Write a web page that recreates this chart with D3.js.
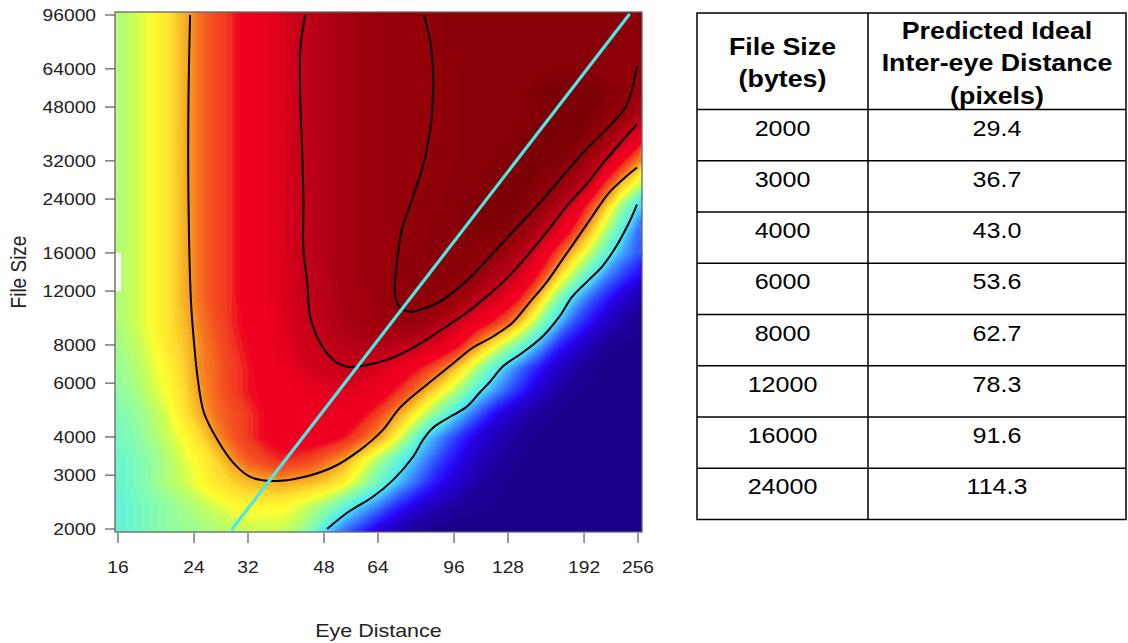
<!DOCTYPE html>
<html>
<head>
<meta charset="utf-8">
<title>Eye distance vs file size</title>
<script src="https://cdn.jsdelivr.net/npm/d3@7/dist/d3.min.js"></script>
<style>
  html, body { margin: 0; padding: 0; background: #fff; }
  svg { display: block; }
  text { font-family: "Liberation Sans", Arial, Helvetica, sans-serif; }
</style>
</head>
<body>
<svg id="chart" width="1128" height="643"></svg>
<script>
// ---------------- data ----------------
const eyeDistanceTicks = [16, 24, 32, 48, 64, 96, 128, 192, 256];
const fileSizeTicks = [2000, 3000, 4000, 6000, 8000, 12000, 16000, 24000, 32000, 48000, 64000, 96000];

const tableFileSize = [2000, 3000, 4000, 6000, 8000, 12000, 16000, 24000];
const tableIdealDistance = [29.4, 36.7, 43.0, 53.6, 62.7, 78.3, 91.6, 114.3];
const headerFileSize = ["File Size", "(bytes)"];
const headerIdeal = ["Predicted Ideal", "Inter-eye Distance", "(pixels)"];

// surface grid: eye distances 1/8 octave apart, file sizes 1/4 octave apart
const gridEyeDistance = d3.range(33).map(i => 16 * 2 ** (i / 8));
const gridFileSize = d3.range(24).map(j => 2000 * 2 ** (j / 4));

// surface values (0-100); one row per grid file size, from 2000 bytes upward
const surface = [
  [36,38,40,42,43,44,45,46,47,47,47,45,40,31,24,19,13,9,5,3,1,0,0,0,0,0,0,0,0,0,0,0,0],
  [36,38,40,42,44,46,48,50,51,51,51,49,46,42,36,30,25,19,14,10,7,5,3,2,1,0,0,0,0,0,0,0,0],
  [37,39,42,45,47,50,53,55,57,58,59,58,57,55,51,45,38,31,25,19,14,10,6,4,2,1,0,0,0,0,0,0,0],
  [37,39,42,45,48,51,55,60,65,68,70,69,67,63,59,52,45,38,31,25,19,14,9,6,4,2,1,0,0,0,0,0,0],
  [39,41,44,47,50,54,60,65,69,72,74,75,75,74,71,66,60,52,42,31,25,19,13,9,6,3,1,0,0,0,0,0,0],
  [40,42,45,48,53,58,63,66,69,72,74,76,77,77,76,73,68,61,54,46,38,30,23,16,11,7,4,2,1,0,0,0,0],
  [42,44,47,50,54,60,64,68,71,73,75,77,78,79,80,79,76,71,65,58,51,44,35,28,22,16,10,6,3,1,0,0,0],
  [43,45,48,51,55,61,64,68,71,74,77,80,82,83,84,83,81,78,74,69,63,55,46,37,29,22,16,10,6,3,1,0,0],
  [44,46,49,53,56,61,65,69,72,76,79,81,83,85,87,88,88,87,85,82,78,72,62,53,45,37,28,19,13,8,4,2,1],
  [45,47,50,53,57,62,66,70,73,76,79,82,84,87,89,91,92,93,94,92,88,82,77,71,64,54,42,31,22,16,10,6,3],
  [45,47,50,53,58,63,67,70,74,77,80,82,85,87,90,91,93,95,96,96,95,92,87,82,77,68,55,42,31,23,17,11,7],
  [45,47,50,53,58,63,67,70,74,77,80,82,85,88,90,92,93,95,96,97,97,97,94,89,85,79,69,56,45,35,26,20,15],
  [45,47,50,53,58,63,67,70,74,77,80,83,86,88,90,92,93,94,96,97,97,98,97,96,91,86,78,68,57,47,37,28,22],
  [45,47,50,53,58,63,67,70,74,77,80,83,86,88,90,92,93,94,96,97,97,98,99,99,97,93,87,80,70,58,46,35,24],
  [45,47,50,53,58,63,67,70,74,77,80,83,86,88,90,92,93,94,95,96,97,98,99,100,100,98,94,88,80,68,56,43,32],
  [45,47,50,53,58,63,67,70,74,77,80,83,86,88,90,92,93,94,94,96,97,97,98,99,100,100,98,95,90,83,69,57,48],
  [45,47,50,53,58,63,67,70,74,77,80,83,86,88,90,92,93,94,94,95,96,97,97,98,99,100,100,99,96,91,84,73,62],
  [45,47,50,53,58,63,67,70,74,77,80,83,86,88,90,92,93,94,94,94,96,97,97,97,98,99,100,100,100,97,92,86,77],
  [45,47,50,53,58,63,67,70,74,77,80,83,86,88,90,92,93,94,94,94,96,97,97,97,97,98,99,100,100,100,97,94,88],
  [45,47,50,53,58,63,67,70,74,77,80,83,86,88,90,92,93,94,94,94,96,97,97,97,97,98,100,100,100,100,99,97,93],
  [45,47,50,53,58,63,67,70,74,77,80,83,86,88,90,92,93,94,94,94,96,97,97,97,97,97,97,98,98,98,97,96,95],
  [45,47,50,53,58,63,67,70,74,77,80,83,86,88,90,92,93,94,94,95,97,97,97,97,97,97,97,97,97,97,97,97,97],
  [45,47,50,53,58,63,67,70,74,77,80,83,86,88,90,92,93,94,94,95,97,97,97,97,97,97,97,97,97,97,97,97,97],
  [45,47,50,53,58,63,67,70,74,77,80,83,86,88,90,92,93,94,94,95,97,97,97,97,97,97,97,97,97,97,97,97,97]
];

// contour lines as [eye distance, file size] points
const contour32 = [[48.8,2000],[54.3,2260],[62.3,2550],[69.3,2890],[77.1,3440],[81.3,3910],[85.7,4280],
  [93.8,4650],[102.7,5020],[110.0,5580],[117.3,6150],[124.3,6790],[138.2,7540],[153.7,8510],[168.3,9900],
  [180.3,11510],[197.3,13080],[211.4,14430],[227.8,16780],[244.1,20110],[254.6,23030]];
const contour60 = [[23.5,96000],[23.3,50800],[23.3,23900],[23.6,11250],[24.0,8130],[24.5,6150],[25.3,4800],
  [27.2,3910],[29.6,3290],[32.4,2960],[36.6,2870],[42.3,2940],[50.4,3190],[58.2,3630],[65.7,4220],[71.9,4980],
  [83.0,5930],[95.3,6940],[106.0,7830],[117.9,8510],[131.1,9460],[143.5,11000],[157.0,12790],[171.0,15210],
  [184.2,17690],[200.5,21040],[219.5,25210],[240.2,28440],[254.6,30440]];
const contour84 = [[43.4,96000],[42.3,74100],[42.3,50800],[42.7,34870],[43.0,23900],[43.0,16400],[43.9,12790],
  [44.6,9900],[47.0,8130],[50.4,7150],[54.3,6790],[59.1,6840],[67.1,7150],[77.1,7830],[89.0,8900],[102.7,10200],
  [114.2,11510],[127.0,13180],[141.2,15560],[157.0,18650],[174.6,22690],[194.2,26780],[211.4,31150],
  [231.4,36200],[254.6,42110]];
const contour95 = [[81.7,96000],[84.4,79900],[85.7,65200],[85.7,50800],[84.4,39600],[81.3,30700],[76.7,23900],
  [72.7,19100],[70.8,14900],[70.0,12130],[70.8,11000],[73.1,10430],[76.7,10270],[81.3,10510],[89.0,11080],
  [102.7,12980],[117.9,15910],[136.1,19810],[151.2,23200],[171.0,28440],[192.2,34350],[219.5,41470],
  [240.2,48230],[254.6,65200]];
const contourLines = [contour32, contour60, contour84, contour95];

// ---------------- colour ramp ----------------
const rampStops = [0, .05, .09, .13, .16, .20, .25, .29, .33, .38, .43, .47, .50, .54, .57, .60, .63, .66, .69,
  .72, .76, .79, .82, .84, .88, .92, .95, .975, 1];
const rampColors = ["#1a0088","#1e009c","#2200c0","#2600e0","#2a10ff","#2c40ff","#3a80ff","#44b8ff","#50ecf0",
  "#70f8c8","#98ff98","#c8ff58","#ffff30","#ffe030","#f8c028","#f89c20","#f67020","#f45020","#f03a20",
  "#f00020","#f00020","#e4001e","#d0001a","#c40018","#b00014","#9c000a","#930008","#8a0008","#7a0006"];
const colour = d3.scaleLinear().domain(rampStops).range(rampColors).clamp(true);

// ---------------- layout ----------------
const svg = d3.select("#chart");
const frame = { left: 115, right: 642, top: 12, bottom: 532 };
const x = d3.scaleLog().base(2).domain([16, 256]).range([118, 638]);
const y = d3.scaleLog().domain([2000, 96000]).range([529, 15]);

// text is drawn slightly wider than its height
function label(g, px, py, str, size, opts = {}) {
  const sx = opts.stretch || 1.13;
  return g.append("text")
    .attr("transform", `translate(${px},${py}) scale(${sx},1)`)
    .attr("text-anchor", opts.anchor || "middle")
    .attr("font-size", size)
    .attr("font-weight", opts.weight || "normal")
    .attr("fill", opts.fill || "#000")
    .text(str);
}

// ---------------- surface ----------------
svg.append("clipPath").attr("id", "plotClip")
  .append("rect")
  .attr("x", frame.left).attr("y", frame.top)
  .attr("width", frame.right - frame.left).attr("height", frame.bottom - frame.top);

const nx = gridEyeDistance.length, ny = gridFileSize.length;
const gx = d3.scaleLinear().domain([0.5, nx - 0.5])
  .range([x(gridEyeDistance[0]), x(gridEyeDistance[nx - 1])]);
const gy = d3.scaleLinear().domain([0.5, ny - 0.5])
  .range([y(gridFileSize[0]), y(gridFileSize[ny - 1])]);
const gridPath = d3.geoPath(d3.geoTransform({
  point(px, py) { this.stream.point(gx(px), gy(py)); }
}));

const bands = d3.contours().size([nx, ny]).thresholds(d3.range(0, 101))(surface.flat());

const plot = svg.append("g").attr("clip-path", "url(#plotClip)");
plot.append("g").selectAll("path").data(bands).join("path")
  .attr("d", gridPath)
  .attr("fill", d => colour(Math.min(d.value + 0.5, 100) / 100))
  .attr("stroke", "none");

// blank strip along the left edge between 12000 and 16000
plot.append("rect")
  .attr("x", frame.left + 1).attr("y", y(16000))
  .attr("width", 5).attr("height", y(12000) - y(16000))
  .attr("fill", "#fff");

// contour lines
const contourLine = d3.line()
  .x(d => x(d[0])).y(d => y(d[1]))
  .curve(d3.curveCatmullRom.alpha(0.5));
plot.append("g").selectAll("path").data(contourLines).join("path")
  .attr("d", contourLine)
  .attr("fill", "none")
  .attr("stroke", "#000")
  .attr("stroke-width", 2);

// ideal-distance line: least-squares fit of the table in log-log space
const lx = tableFileSize.map(Math.log), ly = tableIdealDistance.map(Math.log);
const mx = d3.mean(lx), my = d3.mean(ly);
const slope = d3.sum(lx, (v, i) => (v - mx) * (ly[i] - my)) / d3.sum(lx, v => (v - mx) ** 2);
const ideal = fs => Math.exp(my + slope * (Math.log(fs) - mx));
const idealEnds = y.domain().map(fs => [ideal(fs), fs]);
plot.append("path")
  .datum(idealEnds)
  .attr("d", d3.line().x(d => x(d[0])).y(d => y(d[1])))
  .attr("fill", "none")
  .attr("stroke", "#4de8e6")
  .attr("stroke-width", 3.2)
  .attr("stroke-linecap", "round");

// ---------------- frame & axes ----------------
svg.append("rect")
  .attr("x", frame.left).attr("y", frame.top)
  .attr("width", frame.right - frame.left).attr("height", frame.bottom - frame.top)
  .attr("fill", "none").attr("stroke", "#666").attr("stroke-width", 1.3);

const axisY = svg.append("g");
fileSizeTicks.forEach(t => {
  axisY.append("line")
    .attr("x1", frame.left - 10).attr("x2", frame.left)
    .attr("y1", y(t)).attr("y2", y(t))
    .attr("stroke", "#666").attr("stroke-width", 1.3);
  label(axisY, frame.left - 19, y(t) + 6, String(t), 17, { anchor: "end", fill: "#222" });
});

const axisX = svg.append("g");
eyeDistanceTicks.forEach(t => {
  axisX.append("line")
    .attr("x1", x(t)).attr("x2", x(t))
    .attr("y1", frame.bottom + 1).attr("y2", frame.bottom + 11)
    .attr("stroke", "#666").attr("stroke-width", 1.3);
  label(axisX, x(t), 573, String(t), 17, { fill: "#222" });
});

label(svg, (frame.left + frame.right) / 2, 637, "Eye Distance", 19, { fill: "#222" });
svg.append("text")
  .attr("transform", `translate(26,${(frame.top + frame.bottom) / 2}) rotate(-90) scale(1,1.13)`)
  .attr("text-anchor", "middle")
  .attr("font-size", 19)
  .attr("fill", "#222")
  .text("File Size");

// ---------------- table ----------------
const tbl = { left: 697, mid: 868, right: 1126, top: 13, head: 109.5, rowH: 51.25 };
const table = svg.append("g");
const tBottom = tbl.head + tbl.rowH * tableFileSize.length;
table.append("rect")
  .attr("x", tbl.left).attr("y", tbl.top)
  .attr("width", tbl.right - tbl.left).attr("height", tBottom - tbl.top)
  .attr("fill", "none").attr("stroke", "#000").attr("stroke-width", 1.5);
table.append("line")
  .attr("x1", tbl.mid).attr("x2", tbl.mid).attr("y1", tbl.top).attr("y2", tBottom)
  .attr("stroke", "#000").attr("stroke-width", 1.5);
tableFileSize.forEach((fs, i) => {
  const top = tbl.head + i * tbl.rowH;
  table.append("line")
    .attr("x1", tbl.left).attr("x2", tbl.right).attr("y1", top).attr("y2", top)
    .attr("stroke", "#000").attr("stroke-width", 1.5);
  label(table, (tbl.left + tbl.mid) / 2, top + 26, String(fs), 22, { stretch: 1.14 });
  label(table, (tbl.mid + tbl.right) / 2, top + 26, tableIdealDistance[i].toFixed(1), 22, { stretch: 1.14 });
});
[55, 87].forEach((by, i) =>
  label(table, (tbl.left + tbl.mid) / 2, by, headerFileSize[i], 23.5, { weight: "bold", stretch: 1.14 }));
[38.5, 71, 103.5].forEach((by, i) =>
  label(table, (tbl.mid + tbl.right) / 2, by, headerIdeal[i], 23.5, { weight: "bold", stretch: 1.14 }));
</script>
</body>
</html>
